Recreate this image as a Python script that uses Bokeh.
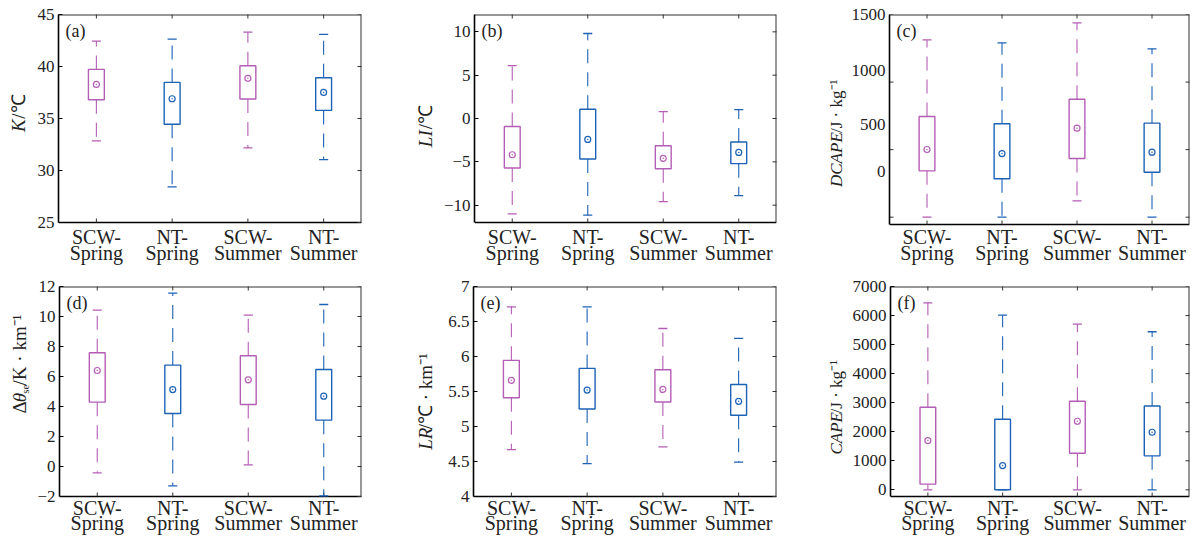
import math
from bokeh.plotting import figure
from bokeh.models import Range1d, FixedTicker, ColumnDataSource
from bokeh.layouts import row, column
from bokeh.embed import file_html
from bokeh.resources import INLINE
from bokeh.core.properties import value

# ---------------- data ----------------
categories = ["SCW-\nSpring", "NT-\nSpring", "SCW-\nSummer", "NT-\nSummer"]

K_low = [32.84, 28.42, 32.17, 31.05]
K_q1 = [36.80, 34.44, 36.87, 35.78]
K_mean = [38.28, 36.90, 38.86, 37.51]
K_q3 = [39.72, 38.47, 40.07, 38.92]
K_high = [42.44, 42.63, 43.30, 43.08]

LI_low = [-11.00, -11.15, -9.58, -8.89]
LI_q1 = [-5.71, -4.67, -5.79, -5.21]
LI_mean = [-4.18, -2.41, -4.60, -3.91]
LI_q3 = [-0.92, 1.07, -3.14, -2.72]
LI_high = [6.09, 9.81, 0.80, 1.03]

DCAPE_low = [0, 0, 121, 0]
DCAPE_q1 = [343, 284, 434, 333]
DCAPE_mean = [501, 471, 659, 481]
DCAPE_q3 = [745, 691, 873, 696]
DCAPE_high = [1312, 1290, 1438, 1246]

DTH_low = [-0.42, -1.29, 0.11, -1.96]
DTH_q1 = [4.29, 3.53, 4.13, 3.09]
DTH_mean = [6.40, 5.13, 5.78, 4.69]
DTH_q3 = [7.58, 6.76, 7.38, 6.47]
DTH_high = [10.42, 11.56, 10.09, 10.80]

LR_low = [4.67, 4.47, 4.71, 4.49]
LR_q1 = [5.41, 5.25, 5.35, 5.16]
LR_mean = [5.66, 5.52, 5.53, 5.36]
LR_q3 = [5.945, 5.83, 5.81, 5.60]
LR_high = [6.71, 6.71, 6.40, 6.26]

CAPE_low = [0, 0, 0, 0]
CAPE_q1 = [195, 0, 1260, 1169]
CAPE_mean = [1695, 836, 2360, 1982]
CAPE_q3 = [2841, 2429, 3047, 2887]
CAPE_high = [6438, 6014, 5705, 5442]

K_ticks = [25, 30, 35, 40, 45]
K_tick_labels = ["25", "30", "35", "40", "45"]
LI_ticks = [-10, -5, 0, 5, 10]
LI_tick_labels = ["\u221210", "\u22125", "0", "5", "10"]
DCAPE_ticks = [0, 500, 1000, 1500]
DCAPE_tick_labels = ["0", "500", "1000", "1500"]
DCAPE_label_at = [340, 686, 1086, 1500]   # the reference prints these labels off their ticks
DTH_ticks = [-2, 0, 2, 4, 6, 8, 10, 12]
DTH_tick_labels = ["\u22122", "0", "2", "4", "6", "8", "10", "12"]
LR_ticks = [4, 4.5, 5, 5.5, 6, 6.5, 7]
LR_tick_labels = ["4", "4.5", "5", "5.5", "6", "6.5", "7"]
CAPE_ticks = [0, 1000, 2000, 3000, 4000, 5000, 6000, 7000]
CAPE_tick_labels = ["0", "1000", "2000", "3000", "4000", "5000", "6000", "7000"]

# ---------------- style ----------------
SERIF = "Liberation Serif"
PURPLE = "#b45db4"
BLUE = "#1c62b5"
box_colors = [PURPLE, BLUE, PURPLE, BLUE]
TXT = "#222222"
FRAME = "#333333"


def ylabel_strip(w, h, parts):
    f = figure(width=w, height=h, x_range=Range1d(0, w), y_range=Range1d(h, 0),
               output_backend="svg", toolbar_location=None, title_location=None,
               x_axis_location=None, y_axis_location=None,
               min_border_left=0, min_border_right=0, min_border_top=0, min_border_bottom=0)
    f.xgrid.visible = False
    f.ygrid.visible = False
    f.outline_line_color = None
    f.border_fill_color = "white"
    for text, style, size, px, py in parts:
        f.text(x=[px], y=[py], text=[text], angle=math.pi / 2,
               text_align="left", text_baseline="middle",
               text_font=value(SERIF), text_font_size=value(size),
               text_font_style=value(style), text_color=TXT)
    return f


def panel(tag, stats, yr, ticks, tick_labels, W, H, bl, br, bt, box_h, base1, base2,
          label_at=None):
    lo, hi = yr
    upp = (hi - lo) / box_h              # data units per pixel
    ext_lo = lo - (H - bt - box_h) * upp  # frame continues below the box to hold the labels
    p = figure(width=W, height=H, x_range=Range1d(0.5, 4.5), y_range=Range1d(ext_lo, hi),
               output_backend="svg", toolbar_location=None, title_location=None,
               x_axis_location=None,
               min_border_left=bl, min_border_right=br, min_border_top=bt, min_border_bottom=0)
    p.xgrid.visible = False
    p.ygrid.visible = False
    p.outline_line_color = None
    p.background_fill_color = "white"
    p.border_fill_color = "white"

    def dy(py):
        return hi - (py - bt) * upp

    ya = p.yaxis[0]
    ya.bounds = (lo, hi)
    if label_at is None:
        ya.ticker = FixedTicker(ticks=ticks)
        ya.major_label_overrides = {t: s for t, s in zip(ticks, tick_labels)}
        ya.major_tick_in = 4
    else:
        ya.ticker = FixedTicker(ticks=label_at)
        ya.major_label_overrides = {t: s for t, s in zip(label_at, tick_labels)}
        ya.major_tick_in = 0
        ya.major_tick_line_color = None
    ya.major_tick_out = 0
    ya.minor_tick_line_color = None
    ya.axis_line_color = "black"
    ya.axis_line_width = 1.6
    ya.major_label_text_font = SERIF
    ya.major_label_text_font_size = "17px"
    ya.major_label_text_color = TXT
    ya.major_label_standoff = 4

    xs = [i + 1 for i in range(len(categories))]
    n = len(ticks)
    # frame edges: bottom (black), top and right (half clipped by the frame edge)
    p.segment(x0=[0.5], y0=[lo], x1=[4.5], y1=[lo], line_color="black", line_width=1.6)
    p.segment(x0=[0.5], y0=[hi], x1=[4.5], y1=[hi], line_color=FRAME, line_width=2)
    p.segment(x0=[4.5], y0=[lo], x1=[4.5], y1=[hi], line_color=FRAME, line_width=2)
    # inward tick marks
    p.scatter(x=xs, y=[hi] * 4, marker="dash", angle=math.pi / 2, size=8,
              line_color=FRAME, line_width=1)
    p.segment(x0=xs, y0=[lo] * 4, x1=xs, y1=[lo + 4 * upp] * 4, line_color=FRAME, line_width=1)
    p.scatter(x=[4.5] * n, y=ticks, marker="dash", size=8, line_color=FRAME, line_width=1)
    if label_at is not None:
        p.scatter(x=[0.5] * n, y=ticks, marker="dash", size=8, line_color=FRAME, line_width=1)

    low, q1, mean, q3, high = stats
    src = ColumnDataSource(dict(
        x=xs, low=low, q1=q1, mean=mean, q3=q3, high=high, color=box_colors,
        left=[x - 0.105 for x in xs], right=[x + 0.105 for x in xs],
        cl=[x - 0.06 for x in xs], cr=[x + 0.06 for x in xs]))
    p.segment(x0="x", y0="q3", x1="x", y1="high", source=src, line_color="color",
              line_width=1.1, line_dash="14 9")
    p.segment(x0="x", y0="q1", x1="x", y1="low", source=src, line_color="color",
              line_width=1.1, line_dash="14 9")
    p.segment(x0="cl", y0="high", x1="cr", y1="high", source=src, line_color="color", line_width=1.3)
    p.segment(x0="cl", y0="low", x1="cr", y1="low", source=src, line_color="color", line_width=1.3)
    p.quad(left="left", right="right", bottom="q1", top="q3", source=src,
           fill_color=None, line_color="color", line_width=1.4)
    p.scatter(x="x", y="mean", source=src, marker="circle_dot", size=6,
              fill_color=None, line_color="color", line_width=1.2)

    # category labels (two lines) under the box
    fw = W - bl - br
    line1 = [c.split("\n")[0] for c in categories]
    line2 = [c.split("\n")[1] for c in categories]
    for lines, base in ((line1, base1), (line2, base2)):
        p.text(x=xs, y=[dy(base)] * len(xs), text=lines, text_align="center",
               text_baseline="alphabetic", text_font=value(SERIF),
               text_font_size=value("20px"), text_color=TXT)

    # panel tag
    p.text(x=[0.5 + 7 * 4.0 / fw], y=[dy(bt + 6)], text=[tag],
           text_align="left", text_baseline="top", text_font=value(SERIF),
           text_font_size=value("18px"), text_color=TXT)
    return p


U_C = "/\u2103"
U_J = "/J \u00b7 kg\u207b\u00b9"
U_KM = "/K \u00b7 km\u207b\u00b9"
U_LR = "/\u2103 \u00b7 km\u207b\u00b9"

R1, R2 = 268, 270   # row heights (row 2 starts at page y 268)

# row 1
la = ylabel_strip(30, R1, [("K", "italic", "19px", 18, 124), (U_C, "normal", "19px", 18, 110)])
pa = panel("(a)", [K_low, K_q1, K_mean, K_q3, K_high], (25, 45), K_ticks, K_tick_labels,
           370, R1, 28, 39, 14, 208, 236, 252)
lb = ylabel_strip(37, R1, [("LI", "italic", "19px", 25, 140), (U_C, "normal", "19px", 25, 121)])
pb = panel("(b)", [LI_low, LI_q1, LI_mean, LI_q3, LI_high], (-12, 12), LI_ticks, LI_tick_labels,
           363, R1, 37, 24, 14, 208, 236, 252)
lc = ylabel_strip(48, R1, [("DCAPE", "italic", "17px", 36, 182), (U_J, "normal", "17px", 36, 125)])
pc = panel("(c)", [DCAPE_low, DCAPE_q1, DCAPE_mean, DCAPE_q3, DCAPE_high], (-54, 1500),
           DCAPE_ticks, DCAPE_tick_labels, 348, R1, 40, 7, 14, 210, 236, 252,
           label_at=DCAPE_label_at)

# row 2
ld = ylabel_strip(30, R2, [("\u0394", "normal", "19px", 19, 136), ("\u03b8", "italic", "19px", 19, 124),
                           ("se", "normal", "11px", 24, 115), (U_KM, "normal", "19px", 19, 106)])
pd_ = panel("(d)", [DTH_low, DTH_q1, DTH_mean, DTH_q3, DTH_high], (-2, 12), DTH_ticks, DTH_tick_labels,
            370, R2, 29, 39, 18, 210, 239, 254)
le = ylabel_strip(37, R2, [("LR", "italic", "19px", 25, 175), (U_LR, "normal", "19px", 25, 153)])
pe = panel("(e)", [LR_low, LR_q1, LR_mean, LR_q3, LR_high], (4, 7), LR_ticks, LR_tick_labels,
           363, R2, 36, 24, 18, 210, 239, 254)
lf = ylabel_strip(48, R2, [("CAPE", "italic", "17px", 36, 180), (U_J, "normal", "17px", 36, 136)])
pf = panel("(f)", [CAPE_low, CAPE_q1, CAPE_mean, CAPE_q3, CAPE_high], (-230, 7000),
           CAPE_ticks, CAPE_tick_labels, 348, R2, 42, 7, 18, 210, 239, 254)

layout = column(row(la, pa, lb, pb, lc, pc), row(ld, pd_, le, pe, lf, pf))

open("out.html", "w").write(file_html(layout, INLINE))
